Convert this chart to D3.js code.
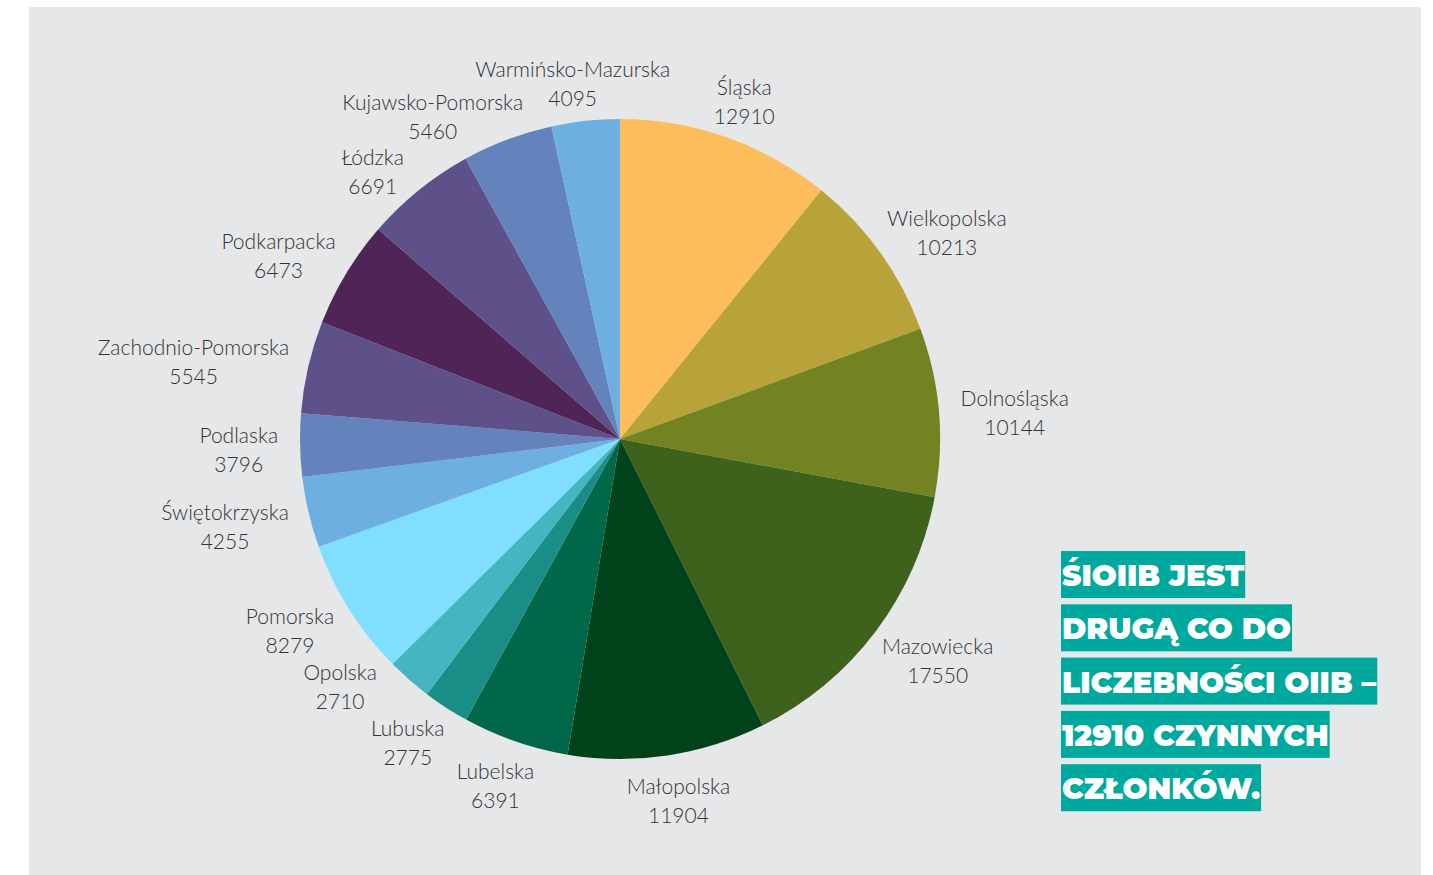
<!DOCTYPE html>
<html>
<head>
<meta charset="utf-8">
<script src="https://d3js.org/d3.v7.min.js"></script>
<style>
  body { margin: 0; background: #ffffff; }
</style>
</head>
<body>
<svg id="vis"></svg>
<script>
// data, clockwise from 12 o'clock
var regions = ["Śląska", "Wielkopolska", "Dolnośląska", "Mazowiecka", "Małopolska", "Lubelska",
               "Lubuska", "Opolska", "Pomorska", "Świętokrzyska", "Podlaska", "Zachodnio-Pomorska",
               "Podkarpacka", "Łódzka", "Kujawsko-Pomorska", "Warmińsko-Mazurska"];
var members = [12910, 10213, 10144, 17550, 11904, 6391, 2775, 2710, 8279, 4255, 3796, 5545,
               6473, 6691, 5460, 4095];
var sliceColors = ["#fdbd5b", "#b7a338", "#738322", "#3e621b", "#00421a", "#006848",
                   "#198e86", "#45b6c1", "#80deff", "#6cafe0", "#6482bc", "#5e5089",
                   "#4f2558", "#5e5089", "#6482bc", "#6cafe0"];
var noteLines = ["ŚIOIIB JEST", "DRUGĄ CO DO", "LICZEBNOŚCI OIIB –", "12910 CZYNNYCH", "CZŁONKÓW."];

var W = 1433, H = 875;
var cx = 620, cy = 439, radius = 320;

var svg = d3.select("#vis").attr("width", W).attr("height", H);

// grey panel
svg.append("rect")
  .attr("x", 29).attr("y", 7)
  .attr("width", 1392).attr("height", 870)
  .attr("fill", "#e6e7e9");

var data = regions.map(function(r, i) { return {name: r, value: members[i], color: sliceColors[i]}; });

var pie = d3.pie().sort(null).value(function(d) { return d.value; });
var arcs = pie(data);
var arc = d3.arc().innerRadius(0).outerRadius(radius);

var g = svg.append("g").attr("transform", "translate(" + cx + "," + cy + ")");

g.selectAll("path")
  .data(arcs)
  .enter()
  .append("path")
    .attr("d", arc)
    .attr("fill", function(d) { return d.data.color; });

// labels: name + value, placed outside each slice
var labelFont = "Lato, 'Open Sans', sans-serif";
var lineGap = 29;
var labels = g.append("g")
  .selectAll("g")
  .data(arcs)
  .enter()
  .append("g");

labels.each(function(d) {
  var t = d3.select(this);
  d.lineW = [];
  [d.data.name, d.data.value].forEach(function(s, k) {
    var tx = t.append("text")
      .attr("y", (k === 0 ? -lineGap / 2 : lineGap / 2) + 8)
      .attr("text-anchor", "middle")
      .style("font-family", labelFont)
      .style("font-weight", 300)
      .style("font-size", "21px")
      .style("fill", "#333333")
      .text(s);
    d.lineW.push(tx.node().getComputedTextLength());
  });
  d.halfW = d3.max(d.lineW) / 2;
  d.ang = (d.startAngle + d.endAngle) / 2;
});

var R0 = 342, offH = 20, shiftY = 4;
function place(d) {
  d.lx = Math.sin(d.ang) * R0 + d.halfW * Math.sin(d.ang);
  d.ly = -Math.cos(d.ang) * (R0 + offH) + shiftY;
}
// each label is two line boxes; test them pairwise
function overlap(a, b) {
  for (var p = 0; p < 2; p++) {
    for (var q = 0; q < 2; q++) {
      var ay = a.ly + (p === 0 ? -13.5 : 13.5), by = b.ly + (q === 0 ? -13.5 : 13.5);
      if (Math.abs(a.lx - b.lx) < (a.lineW[p] + b.lineW[q]) / 2 + 24 &&
          Math.abs(ay - by) < 28) return true;
    }
  }
  return false;
}
arcs.forEach(place);

// spread labels that collide: the one nearer the sides of the pie gives way
var step = 0.004;
for (var it = 0; it < 500; it++) {
  var moved = false;
  for (var i = 0; i < arcs.length; i++) {
    var a = arcs[i], b = arcs[(i + 1) % arcs.length];
    if (overlap(a, b)) {
      if (Math.abs(Math.sin(a.ang)) > Math.abs(Math.sin(b.ang))) { a.ang -= step; place(a); }
      else { b.ang += step; place(b); }
      moved = true;
    }
  }
  if (!moved) break;
}

labels.attr("transform", function(d) { return "translate(" + d.lx + "," + d.ly + ")"; });

// highlighted note on the right
var note = svg.append("g");
var noteX = 1061, noteY = 551, boxH = 47, rowStep = 53.3;
noteLines.forEach(function(line, i) {
  var row = note.append("g").attr("transform", "translate(" + noteX + "," + (noteY + i * rowStep) + ")");
  var box = row.append("rect")
    .attr("height", boxH)
    .attr("fill", "#00a99d");
  var txt = row.append("text")
    .attr("x", 1)
    .attr("y", 35)
    .style("font-family", "Montserrat, Inter, 'Open Sans', sans-serif")
    .style("font-weight", 900)
    .style("font-size", "29.5px")
    .style("fill", "#ffffff")
    .text(line);
  box.attr("width", txt.node().getComputedTextLength() + 2);
});
</script>
</body>
</html>
